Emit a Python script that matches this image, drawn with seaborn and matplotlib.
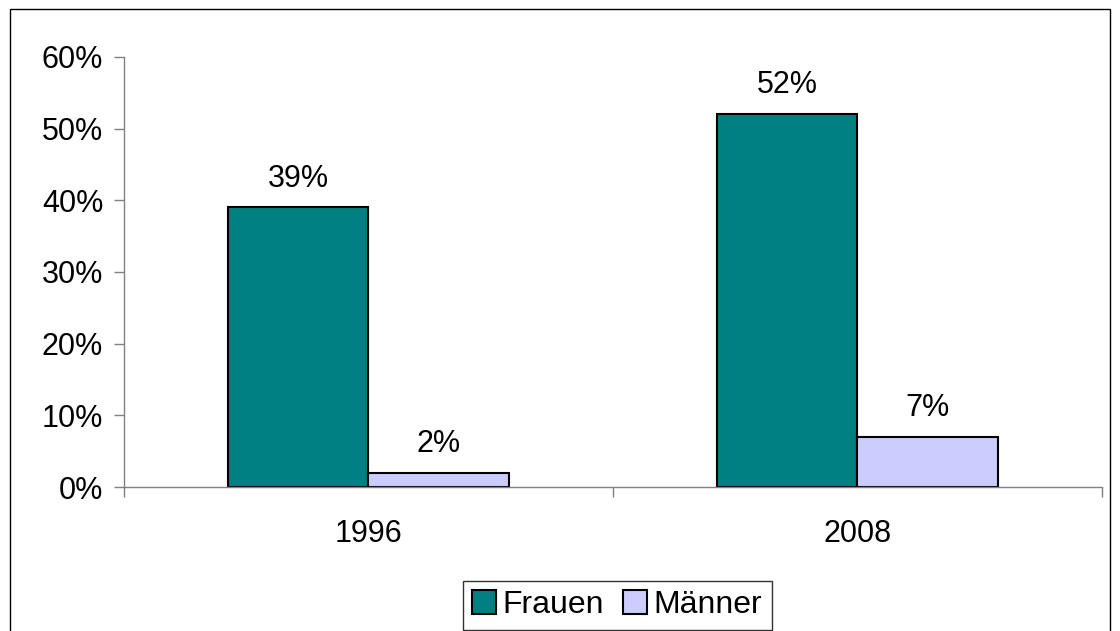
import pandas as pd
import seaborn as sns
import matplotlib.pyplot as plt
from matplotlib.patches import Rectangle
from matplotlib.ticker import PercentFormatter, FixedLocator

years = ["1996", "2008"]
frauen = [0.39, 0.52]
maenner = [0.02, 0.07]
series = ["Frauen", "Männer"]
colors = ["#008080", "#CCCCFF"]

df = pd.DataFrame({
    "Jahr": years * 2,
    "Anteil": frauen + maenner,
    "Gruppe": [series[0]] * len(years) + [series[1]] * len(years),
})

sns.set_style("white")
plt.rcParams["font.family"] = ["Liberation Sans", "DejaVu Sans"]
plt.rcParams["text.color"] = "black"
plt.rcParams["xtick.labelcolor"] = "black"
plt.rcParams["ytick.labelcolor"] = "black"

fig = plt.figure(figsize=(11.2, 6.31), dpi=100)
ax = fig.add_axes([0.1107, 0.2282, 0.8732, 0.6815])

sns.barplot(data=df, x="Jahr", y="Anteil", hue="Gruppe", palette=colors,
            saturation=1, width=0.573, edgecolor="black", linewidth=1.5, gap=0,
            ax=ax, legend=True)

for c in ax.containers:
    ax.bar_label(c, labels=[f"{v*100:.0f}%" for v in c.datavalues],
                 padding=10, fontsize=22, color="black")

ax.set_ylim(0, 0.6)
ax.set_xlim(-0.5, 1.5)
ax.set_yticks([0, 0.1, 0.2, 0.3, 0.4, 0.5, 0.6])
ax.yaxis.set_major_formatter(PercentFormatter(1.0, decimals=0))
ax.xaxis.set_major_locator(FixedLocator([-0.5, 0.5, 1.5]))
ax.xaxis.set_minor_locator(FixedLocator([0, 1]))
ax.set_xticklabels([], minor=False)
ax.set_xticklabels(years, minor=True)
ax.tick_params(axis="x", which="major", length=7, width=1, color="#808080",
               direction="out", bottom=True)
ax.tick_params(axis="x", which="minor", length=0, labelsize=22, pad=23)
ax.tick_params(axis="y", length=7, width=1, color="#808080", direction="out",
               left=True, labelsize=22, pad=8)
ax.set_xlabel("")
ax.set_ylabel("")
for s in ["top", "right"]:
    ax.spines[s].set_visible(False)
for s in ["left", "bottom"]:
    ax.spines[s].set_color("#808080")
    ax.spines[s].set_linewidth(1)

handles, labels = ax.get_legend_handles_labels()
ax.get_legend().remove()
leg = fig.legend(handles, labels, loc="center", bbox_to_anchor=(0.551, 0.041),
                 ncol=2, fontsize=23, frameon=True, fancybox=False,
                 edgecolor="black", handlelength=0.75, handleheight=0.75,
                 handletextpad=0.2, columnspacing=0.6, borderpad=0.3,
                 borderaxespad=0)
leg.get_frame().set_linewidth(1)

fig.patches.append(Rectangle((0.0089, -0.02), 0.982, 1.0057, transform=fig.transFigure,
                             fill=False, edgecolor="black", linewidth=1))

fig.savefig("out.png", dpi=100)
